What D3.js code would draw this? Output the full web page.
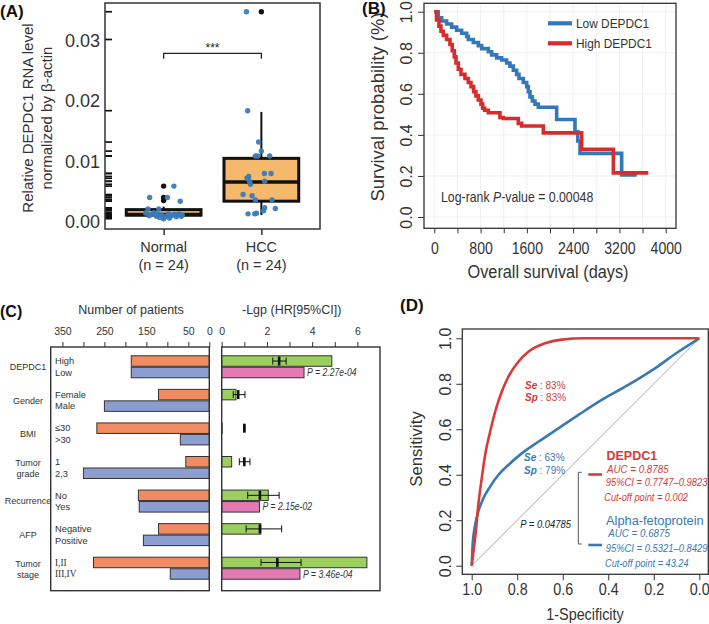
<!DOCTYPE html>
<html><head><meta charset="utf-8">
<script src="https://cdn.jsdelivr.net/npm/d3@7/dist/d3.min.js"></script>
<style>
html,body{margin:0;padding:0;background:#fff;}
svg{display:block;font-family:"Liberation Sans",Arial,Helvetica,sans-serif;}
</style></head><body>
<svg id="fig" width="709" height="624"></svg>
<script>
// ================= DATA =================
// ---- Panel A: relative DEPDC1 RNA level ----
const groupsA = ["Normal", "HCC"];
const groupCountsA = ["(n = 24)", "(n = 24)"];
const normalValues = [0.0059,0.0040,0.0040,0.0034,0.0021,0.0021,0.00145,0.0009,0.0009,0.0006,0.0012,0.0013,0.0009,0.0012,0.0011,0.0010,0.0008,0.0015,0.0007,0.0013,0.0005,0.0010,0.0013,0.0011];
const normalJitter = [0.105,-0.143,0.038,0.17,-0.16,-0.05,-0.184,-0.074,0.028,0.06,0.11,0.156,0.18,-0.12,-0.02,0.08,0.13,-0.10,-0.04,0.05,0,-0.15,-0.07,0.19];
const hccValues = [0.0348,0.0184,0.0132,0.0117,0.0109,0.0109,0.0109,0.0080,0.0080,0.0072,0.0067,0.0062,0.0067,0.0045,0.0043,0.0036,0.0036,0.0023,0.0022,0.0018,0.0013,0.0013,0.0014,0.0075];
const hccJitter = [-0.153,-0.14,-0.028,0,-0.061,-0.038,0.085,0.031,0.099,-0.146,-0.122,-0.112,0.034,-0.187,-0.095,-0.061,0.109,0.034,0.143,0.023,-0.136,-0.068,-0.05,-0.13];
const boxQ1 = [0.00108, 0.0034];
const boxMedian = [0.0012, 0.0066];
const boxQ3 = [0.0020, 0.0105];
const whiskerLo = [0.0003, 0.0011];
const whiskerHi = [0.0025, 0.0182];
const outliersA = [[0.0059,0.0040,0.0035],[0.0348]];
const rugOnlyA = [0.0302];
const yTicksA = [0, 0.01, 0.02, 0.03];
const bracketLevelA = [0.0270, 0.0279];

// ---- Panel B: Kaplan-Meier ----
const lowTimes = [0,69,127,213,300,386,473,559,588,674,761,818,934,991,1078,1164,1251,1308,1366,1424,1464,1539,1597,1625,1654,1695,1741,1798,2115,2432,2479,2519,3239];
const lowSurv  = [1.0,0.97,0.955,0.94,0.925,0.91,0.895,0.88,0.865,0.85,0.835,0.82,0.805,0.79,0.775,0.765,0.75,0.735,0.715,0.695,0.675,0.655,0.635,0.61,0.585,0.565,0.55,0.535,0.475,0.415,0.37,0.31,0.205];
const lowEnd = 3499;
const highTimes = [0,40,81,115,156,213,271,311,346,375,415,461,530,588,634,680,720,761,807,836,870,934,1135,1193,1452,1510,1885,2548,3095];
const highSurv  = [1.0,0.96,0.93,0.905,0.885,0.865,0.84,0.81,0.78,0.75,0.72,0.695,0.675,0.655,0.635,0.61,0.59,0.57,0.55,0.53,0.52,0.508,0.485,0.48,0.456,0.443,0.41,0.33,0.215];
const highEnd = 3700;
const seriesB = ["Low DEPDC1", "High DEPDC1"];
const xTicksB = [0,400,800,1200,1600,2000,2400,2800,3200,3600,4000];
const xTickLabelsB = [0,800,1600,2400,3200,4000];
const yTicksB = [0,0.2,0.4,0.6,0.8,1.0];

// ---- Panel C: clinical features ----
const categoriesC = ["DEPDC1","Gender","BMI","Tumor grade","Recurrence","AFP","Tumor stage"];
const subLabelsTop = ["High","Female","≤30","1","No","Negative","I,II"];
const subLabelsBottom = ["Low","Male",">30","2,3","Yes","Positive","III,IV"];
const countsTop = [186,121,268,56,169,121,276];
const countsBottom = [186,250,69,300,167,157,93];
const lgpUni = [4.87,0.63,0.02,0.44,2.06,1.73,6.42];
const lgpMulti = [3.64,null,null,null,1.67,null,3.46];
const pMultiLabels = ["2.27e-04",null,null,null,"2.15e-02",null,"3.46e-04"];
const hrPoint = [2.54,0.73,1.0,1.0,1.69,1.69,2.46];
const hrLow  = [2.26,0.51,0.97,0.78,1.15,1.08,1.74];
const hrHigh = [2.85,1.03,1.03,1.25,2.54,2.65,3.51];
const leftTicksC = [0,50,100,150,200,250,300,350];
const leftTickLabelsC = [350,250,150,50,0];
const rightTicksC = [0,1,2,3,4,5,6];
const rightTickLabelsC = [0,2,4,6];

// ---- Panel D: ROC ----
const rocRedSpec = [1.0,0.982,0.971,0.956,0.941,0.919,0.897,0.868,0.839,0.795,0.751,0.678,0.605,0.502,0.385,0.0];
const rocRedSens = [0,0.15,0.267,0.384,0.487,0.589,0.677,0.765,0.831,0.897,0.941,0.978,0.994,1.0,1.0,1.0];
const rocBlueSpec = [1.0,0.996,0.985,0.971,0.949,0.919,0.883,0.839,0.780,0.707,0.619,0.531,0.429,0.312,0.195,0.092,0.0];
const rocBlueSens = [0,0.091,0.179,0.238,0.296,0.348,0.399,0.443,0.494,0.545,0.604,0.663,0.729,0.795,0.868,0.941,1.0];
const ticksD = [1.0,0.8,0.6,0.4,0.2,0.0];

// ================= DRAWING =================
const svg = d3.select("#fig");
svg.append("rect").attr("width",709).attr("height",624).attr("fill","#fff");

function label(g, x, y, str, o = {}) {
  const size = o.size || 12;
  let bx = x, by = y;
  if (o.mid) { if (o.rot === -90) bx = x + 0.35*size; else by = y + 0.35*size; }
  let tr = `translate(${bx},${by})`;
  if (o.rot) tr += ` rotate(${o.rot})`;
  if (o.sx && o.sx !== 1) tr += ` scale(${o.sx},1)`;
  const t = g.append("text").attr("transform", tr)
    .attr("text-anchor", o.anchor || "start")
    .attr("font-size", size)
    .attr("font-weight", o.weight || "normal")
    .attr("font-style", o.italic ? "italic" : "normal")
    .attr("font-family", o.serif ? "'Liberation Serif','Times New Roman',serif" : null)
    .attr("fill", o.fill || "#222");
  if (Array.isArray(str)) {
    str.forEach(p => t.append("tspan").text(p.t)
      .attr("font-style", p.i ? "italic" : null)
      .attr("font-weight", p.b ? "bold" : null));
  } else t.text(str);
  return t;
}

// ---------- Panel A ----------
(function(){
  const g = svg.append("g");
  const xA = d3.scalePoint().domain(groupsA).range([105,320]).padding(0.6);
  const yA = d3.scaleLinear().domain([-0.00121,0.03625]).range([229,3]);
  const step = xA.step(), boxW = 0.765*step;
  const valuesA = [normalValues, hccValues], jitterA = [normalJitter, hccJitter];

  const rugVals = normalValues.concat(hccValues, rugOnlyA);
  g.selectAll("line.rug").data(rugVals).join("line").attr("class","rug")
    .attr("x1",105).attr("x2",112).attr("y1",d=>yA(d)).attr("y2",d=>yA(d))
    .attr("stroke","#111").attr("stroke-width",1.7);

  groupsA.forEach((grp,i)=>{
    const cx = xA(grp);
    g.append("line").attr("x1",cx).attr("x2",cx).attr("y1",yA(whiskerHi[i])).attr("y2",yA(boxQ3[i])).attr("stroke","#111").attr("stroke-width",2);
    g.append("line").attr("x1",cx).attr("x2",cx).attr("y1",yA(whiskerLo[i])).attr("y2",yA(boxQ1[i])).attr("stroke","#111").attr("stroke-width",2);
    g.append("rect").attr("x",cx-boxW/2).attr("y",yA(boxQ3[i])).attr("width",boxW)
      .attr("height",yA(boxQ1[i])-yA(boxQ3[i])).attr("fill","#f4b96c").attr("stroke","#111").attr("stroke-width",3);
    g.append("line").attr("x1",cx-boxW/2).attr("x2",cx+boxW/2).attr("y1",yA(boxMedian[i])).attr("y2",yA(boxMedian[i]))
      .attr("stroke","#111").attr("stroke-width",3.5);
    g.selectAll(null).data(outliersA[i]).join("circle").attr("cx",cx).attr("cy",d=>yA(d)).attr("r",2.7).attr("fill","#111");
    g.selectAll(null).data(valuesA[i]).join("circle")
      .attr("cx",(d,j)=>cx + jitterA[i][j]*step).attr("cy",d=>yA(d)).attr("r",2.7)
      .attr("fill","#3b7bbb").attr("fill-opacity",0.95);
  });

  g.append("rect").attr("x",105).attr("y",3).attr("width",215).attr("height",226)
    .attr("fill","none").attr("stroke","#333").attr("stroke-width",1.5);

  const ay = g.append("g").attr("transform","translate(105,0)")
    .call(d3.axisLeft(yA).tickValues(yTicksA).tickSize(0).tickPadding(5).tickFormat(d3.format(".2f")));
  ay.select(".domain").remove();
  ay.selectAll("text").attr("font-size",18).attr("fill","#333").attr("font-family",null);
  const ax = g.append("g").attr("transform","translate(0,229)")
    .call(d3.axisBottom(xA).tickSize(6).tickFormat(""));
  ax.select(".domain").remove();
  ax.selectAll("line").attr("stroke","#333").attr("stroke-width",1.5);
  groupsA.forEach((grp,i)=>{
    label(g, xA(grp), 247, grp, {size:14.5, anchor:"middle", mid:true, fill:"#333"});
    label(g, xA(grp), 265, groupCountsA[i], {size:14.5, anchor:"middle", mid:true, fill:"#333"});
  });

  const x1 = xA(groupsA[0]), x2 = xA(groupsA[1]);
  g.append("path").attr("d",`M${x1},${yA(bracketLevelA[0])}V${yA(bracketLevelA[1])}H${x2}V${yA(bracketLevelA[0])}`)
    .attr("fill","none").attr("stroke","#222").attr("stroke-width",1.3);
  label(g, (x1+x2)/2, 52, "***", {size:12, anchor:"middle", fill:"#222"});

  label(g, 28, 118, "Relative DEPDC1 RNA level", {size:15, rot:-90, anchor:"middle", mid:true, fill:"#333"});
  label(g, 47, 118, "normalized by β-actin", {size:15, rot:-90, anchor:"middle", mid:true, fill:"#333"});
  label(g, 0, 17, "(A)", {size:17, weight:"bold", fill:"#111"});
})();

// ---------- Panel B ----------
(function(){
  const g = svg.append("g");
  const SX = 0.88;
  const xB = d3.scaleLinear().domain([-178,4178]).range([424,676]);
  const yB = d3.scaleLinear().domain([-0.055,1.041]).range([228.3,3.3]);
  g.selectAll(null).data(xTicksB).join("line").attr("x1",d=>xB(d)).attr("x2",d=>xB(d)).attr("y1",3.3).attr("y2",228.3)
    .attr("stroke","#ececec").attr("stroke-width",0.8);
  g.selectAll(null).data(yTicksB).join("line").attr("y1",d=>yB(d)).attr("y2",d=>yB(d)).attr("x1",424).attr("x2",676)
    .attr("stroke","#ececec").attr("stroke-width",0.8);

  const line = d3.line().x(d=>xB(d[0])).y(d=>yB(d[1])).curve(d3.curveStepAfter);
  const lowPts = lowTimes.map((t,i)=>[t,lowSurv[i]]).concat([[lowEnd, lowSurv[lowSurv.length-1]]]);
  const highPts = highTimes.map((t,i)=>[t,highSurv[i]]).concat([[highEnd, highSurv[highSurv.length-1]]]);
  const colB = ["#3478b8", "#d92b2b"];
  g.append("path").attr("d",line(lowPts)).attr("fill","none").attr("stroke",colB[0]).attr("stroke-width",3.6);
  g.append("path").attr("d",line(highPts)).attr("fill","none").attr("stroke",colB[1]).attr("stroke-width",3.6);

  g.append("rect").attr("x",424).attr("y",3.3).attr("width",252).attr("height",225)
    .attr("fill","none").attr("stroke","#333").attr("stroke-width",1.3);

  const ax = g.append("g").attr("transform","translate(0,228.3)")
    .call(d3.axisBottom(xB).tickValues(xTicksB).tickSize(5).tickPadding(9)
      .tickFormat(d => xTickLabelsB.includes(d) ? d : ""));
  ax.select(".domain").remove();
  ax.selectAll("line").attr("stroke","#333");
  ax.selectAll("text").attr("font-size",16).attr("fill","#333").attr("font-family",null).attr("transform",`scale(${SX},1)`);
  const ay = g.append("g").attr("transform","translate(424,0)")
    .call(d3.axisLeft(yB).tickValues(yTicksB).tickSize(6).tickFormat(d3.format(".1f")));
  ay.select(".domain").remove();
  ay.selectAll("line").attr("stroke","#333");
  ay.selectAll("text").attr("font-size",16).attr("fill","#333").attr("font-family",null)
    .attr("transform","rotate(-90)").attr("x",0).attr("y",-12.4).attr("dy",0).attr("text-anchor","middle");

  label(g, 548, 272, "Overall survival (days)", {size:18.5, anchor:"middle", mid:true, sx:SX, fill:"#333"});
  label(g, 378, 107, "Survival probability (%)", {size:18.5, rot:-90, anchor:"middle", mid:true, fill:"#333"});

  seriesB.forEach((s,i)=>{
    const y = 23.3 + i*20;
    g.append("line").attr("x1",548).attr("x2",572).attr("y1",y).attr("y2",y).attr("stroke",colB[i]).attr("stroke-width",4.2);
    label(g, 576, y, s, {size:13.5, mid:true, sx:SX, fill:"#333"});
  });
  label(g, 441, 197, [{t:"Log-rank "},{t:"P",i:true},{t:"-value = 0.00048"}], {size:14, mid:true, sx:SX, fill:"#333"});
  label(g, 362, 14, "(B)", {size:17, weight:"bold", fill:"#111"});
})();

// ---------- Panel C ----------
(function(){
  const g = svg.append("g");
  const xL = d3.scaleLinear().domain([0,378]).range([209.3,50.7]);
  const xR = d3.scaleLinear().domain([0,7]).range([221.7,380]);
  const yC = d3.scaleBand().domain(categoriesC).range([350,585]);
  const barH = 10.5;
  const mid = c => yC(c) + yC.bandwidth()/2;
  const topY = c => mid(c) - 0.5 - barH;
  const botY = c => mid(c) + 0.5;
  const cOrange = "#f08b62", cBlue = "#8c9ecf", cGreen = "#9bd05e", cPink = "#e47ab4";

  g.selectAll(null).data(categoriesC).join("rect")
    .attr("x",(c,i)=>xL(countsTop[i])).attr("y",c=>topY(c)).attr("width",(c,i)=>xL(0)-xL(countsTop[i])).attr("height",barH)
    .attr("fill",cOrange).attr("stroke","#333").attr("stroke-width",1);
  g.selectAll(null).data(categoriesC).join("rect")
    .attr("x",(c,i)=>xL(countsBottom[i])).attr("y",c=>botY(c)).attr("width",(c,i)=>xL(0)-xL(countsBottom[i])).attr("height",barH)
    .attr("fill",cBlue).attr("stroke","#333").attr("stroke-width",1);

  g.selectAll(null).data(categoriesC).join("rect")
    .attr("x",xR(0)).attr("y",c=>topY(c)).attr("width",(c,i)=>xR(lgpUni[i])-xR(0)).attr("height",barH)
    .attr("fill",cGreen).attr("stroke","#333").attr("stroke-width",1);
  const multi = categoriesC.map((c,i)=>({c,v:lgpMulti[i],p:pMultiLabels[i]})).filter(d=>d.v!==null);
  g.selectAll(null).data(multi).join("rect")
    .attr("x",xR(0)).attr("y",d=>botY(d.c)).attr("width",d=>xR(d.v)-xR(0)).attr("height",barH)
    .attr("fill",cPink).attr("stroke","#333").attr("stroke-width",1);
  multi.forEach(d=>{
    label(g, xR(d.v)+3, botY(d.c)+barH/2, [{t:"P",i:true},{t:" = "},{t:d.p,i:true}], {size:10.5, mid:true, sx:0.82, fill:"#333"});
  });

  categoriesC.forEach((c,i)=>{
    const y = topY(c)+barH/2;
    g.append("line").attr("x1",xR(hrLow[i])).attr("x2",xR(hrHigh[i])).attr("y1",y).attr("y2",y).attr("stroke","#111").attr("stroke-width",1);
    [hrLow[i],hrHigh[i]].forEach(v=>g.append("line").attr("x1",xR(v)).attr("x2",xR(v)).attr("y1",y-3.5).attr("y2",y+3.5).attr("stroke","#111").attr("stroke-width",1));
    g.append("line").attr("x1",xR(hrPoint[i])).attr("x2",xR(hrPoint[i])).attr("y1",y-4.5).attr("y2",y+4.5).attr("stroke","#111").attr("stroke-width",2.6);
  });

  g.append("rect").attr("x",50.7).attr("y",347).attr("width",158.6).attr("height",243.7).attr("fill","none").attr("stroke","#333").attr("stroke-width",1.4);
  g.append("rect").attr("x",221.7).attr("y",347).attr("width",158.3).attr("height",243.7).attr("fill","none").attr("stroke","#333").attr("stroke-width",1.4);

  const al = g.append("g").attr("transform","translate(0,347)")
    .call(d3.axisTop(xL).tickValues(leftTicksC).tickSize(5).tickPadding(7).tickFormat(d=>leftTickLabelsC.includes(d)?d:""));
  al.select(".domain").remove();
  al.selectAll("line").attr("stroke","#333");
  al.selectAll("text").attr("font-size",10.5).attr("fill","#333").attr("font-family",null);
  const ar = g.append("g").attr("transform","translate(0,347)")
    .call(d3.axisTop(xR).tickValues(rightTicksC).tickSize(5).tickPadding(7).tickFormat(d=>rightTickLabelsC.includes(d)?d:""));
  ar.select(".domain").remove();
  ar.selectAll("line").attr("stroke","#333");
  ar.selectAll("text").attr("font-size",10.5).attr("fill","#333").attr("font-family",null);

  label(g, 131, 310, "Number of patients", {size:12.5, anchor:"middle", mid:true, fill:"#333"});
  label(g, 242, 310, "-Lgp (HR[95%CI])", {size:12.5, mid:true, fill:"#333"});

  categoriesC.forEach((c,i)=>{
    const m = mid(c);
    const parts = c.split(" ");
    if (parts.length === 1) label(g, 28, m, c, {size:9, anchor:"middle", mid:true, fill:"#333"});
    else {
      label(g, 28, m-4.5, parts[0], {size:9, anchor:"middle", mid:true, fill:"#333"});
      label(g, 28, m+6.5, parts[1], {size:9, anchor:"middle", mid:true, fill:"#333"});
    }
    const serif = c === "Tumor stage";
    label(g, 55, topY(c)+barH/2, subLabelsTop[i], {size:9.3, mid:true, fill:"#333", serif});
    label(g, 55, botY(c)+barH/2, subLabelsBottom[i], {size:9.3, mid:true, fill:"#333", serif});
  });
  label(g, 0, 317, "(C)", {size:16, weight:"bold", fill:"#111"});
})();

// ---------- Panel D ----------
(function(){
  const g = svg.append("g");
  const SX = 0.87;
  const xD = d3.scaleLinear().domain([1.0413,-0.0395]).range([462.3,708.3]);
  const yD = d3.scaleLinear().domain([-0.0378,1.0409]).range([574.3,329]);
  const cRed = "#d83a3a", cBlue = "#3a78b4";

  g.append("line").attr("x1",xD(1)).attr("y1",yD(0)).attr("x2",xD(0)).attr("y2",yD(1)).attr("stroke","#aaa").attr("stroke-width",1);
  const line = d3.line().x(d=>xD(d[0])).y(d=>yD(d[1])).curve(d3.curveMonotoneX);
  const bluePts = rocBlueSpec.map((s,i)=>[s,rocBlueSens[i]]);
  const redPts = rocRedSpec.map((s,i)=>[s,rocRedSens[i]]);
  g.append("path").attr("d",line(bluePts)).attr("fill","none").attr("stroke",cBlue).attr("stroke-width",2.6);
  g.append("path").attr("d",line(redPts)).attr("fill","none").attr("stroke",cRed).attr("stroke-width",2.6);

  g.append("rect").attr("x",462.3).attr("y",329).attr("width",246).attr("height",245.3)
    .attr("fill","none").attr("stroke","#333").attr("stroke-width",1.3);

  const ax = g.append("g").attr("transform","translate(0,574.3)")
    .call(d3.axisBottom(xD).tickValues(ticksD).tickSize(6).tickPadding(3).tickFormat(d3.format(".1f")));
  ax.select(".domain").remove();
  ax.selectAll("line").attr("stroke","#333");
  ax.selectAll("text").attr("font-size",16.5).attr("fill","#333").attr("font-family",null).attr("transform",`scale(${SX},1)`);
  const ay = g.append("g").attr("transform","translate(462.3,0)")
    .call(d3.axisLeft(yD).tickValues(ticksD).tickSize(6).tickFormat(d3.format(".1f")));
  ay.select(".domain").remove();
  ay.selectAll("line").attr("stroke","#333");
  ay.selectAll("text").attr("font-size",16).attr("fill","#333").attr("font-family",null)
    .attr("transform","rotate(-90)").attr("x",0).attr("y",-10.9).attr("dy",0).attr("text-anchor","middle");

  label(g, 585, 614, "1-Specificity", {size:16.5, anchor:"middle", mid:true, sx:SX, fill:"#333"});
  label(g, 416.5, 449, "Sensitivity", {size:16.8, rot:-90, anchor:"middle", mid:true, fill:"#333"});

  label(g, 525, 384.7, [{t:"Se",b:true,i:true},{t:" : 83%"}], {size:11.5, mid:true, sx:SX, fill:cRed});
  label(g, 525, 397, [{t:"Sp",b:true,i:true},{t:" : 83%"}], {size:11.5, mid:true, sx:SX, fill:cRed});
  label(g, 524, 457, [{t:"Se",b:true,i:true},{t:" : 63%"}], {size:11.5, mid:true, sx:SX, fill:cBlue});
  label(g, 524, 469.5, [{t:"Sp",b:true,i:true},{t:" : 79%"}], {size:11.5, mid:true, sx:SX, fill:cBlue});

  g.append("line").attr("x1",588.3).attr("x2",602).attr("y1",474.5).attr("y2",474.5).attr("stroke",cRed).attr("stroke-width",2.6);
  g.append("line").attr("x1",588.3).attr("x2",602).attr("y1",545).attr("y2",545).attr("stroke",cBlue).attr("stroke-width",2.6);
  g.append("path").attr("d","M581.7,472.3H578.3V544H581.7").attr("fill","none").attr("stroke","#555").attr("stroke-width",1);
  label(g, 571, 524.3, "P = 0.04785", {size:11.5, anchor:"end", italic:true, mid:true, sx:0.82, fill:"#222"});
  label(g, 606.5, 455.5, "DEPDC1", {size:12.5, weight:"bold", mid:true, fill:cRed});
  label(g, 607, 469, "AUC = 0.8785", {size:11.5, italic:true, mid:true, sx:0.85, fill:cRed});
  label(g, 605.7, 481.7, "95%CI = 0.7747–0.9823", {size:11.5, italic:true, mid:true, sx:0.82, fill:cRed});
  label(g, 604.3, 496.7, "Cut-off point = 0.002", {size:11.5, italic:true, mid:true, sx:0.8, fill:cRed});
  label(g, 606, 520, "Alpha-fetoprotein", {size:13.5, mid:true, sx:0.95, fill:cBlue});
  label(g, 608.3, 533.3, "AUC = 0.6875", {size:11.5, italic:true, mid:true, sx:0.85, fill:cBlue});
  label(g, 605.7, 548.3, "95%CI = 0.5321–0.8429", {size:11.5, italic:true, mid:true, sx:0.82, fill:cBlue});
  label(g, 605, 562.7, "Cut-off point = 43.24", {size:11.5, italic:true, mid:true, sx:0.8, fill:cBlue});

  label(g, 400, 311, "(D)", {size:17, weight:"bold", fill:"#111"});
})();
</script>
</body></html>
